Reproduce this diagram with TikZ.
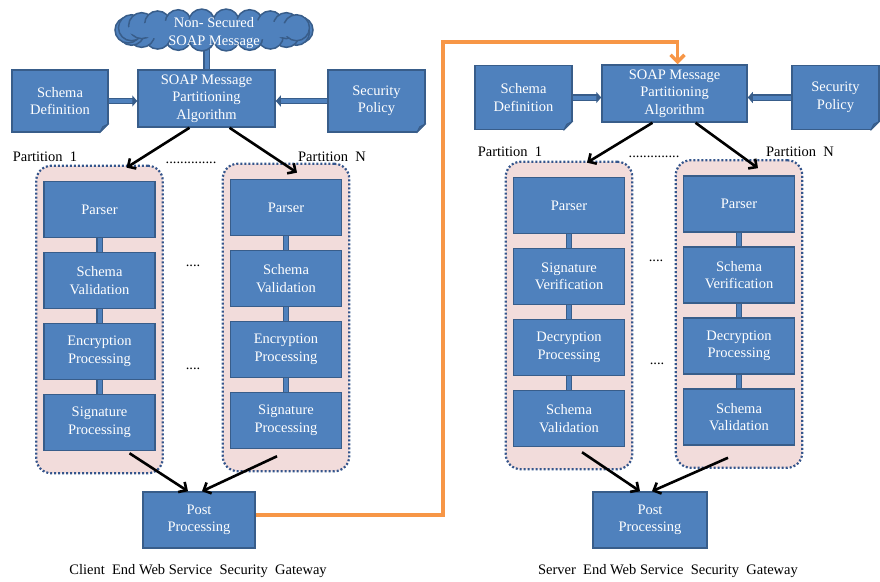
\documentclass[tikz,border=0pt]{standalone}
\usepackage{fontspec}
\setmainfont{Liberation Serif}
\usetikzlibrary{arrows.meta, positioning, fit, backgrounds}
\definecolor{boxfill}{HTML}{4F81BD}
\definecolor{boxedge}{HTML}{385D8A}
\definecolor{foldfill}{HTML}{3D6696}
\definecolor{partfill}{HTML}{F2DCDB}
\definecolor{partedge}{HTML}{34558C}
\definecolor{sendline}{HTML}{F79646}
\tikzset{%
            base/.style = {rectangle, draw=boxedge, line width=1.5pt, fill=boxfill,
                           text=white, align=center, inner sep=1pt,
                           font=\fontsize{14.5}{17.5}\selectfont},
  proc/.style = {base, minimum width=111pt, minimum height=56pt},
  doc/.style  = {base, minimum height=62pt},
  puff/.style = {text=white, align=center, inner sep=0pt,
                 font=\fontsize{14.5}{17.5}\selectfont},
  part/.style = {rectangle, rounded corners=15pt, draw=partedge, fill=partfill,
                 line width=2.2pt, dash pattern=on 2pt off 2pt,
                 inner xsep=7pt, inner ysep=18.5pt},
  note/.style = {inner sep=0pt, font=\fontsize{14.5}{17.5}\selectfont},
  link/.style = {draw=boxedge, line width=1.2pt, double=boxfill, double distance=4pt},
  feed/.style = {link, -{Triangle[length=5pt, width=11pt]}},
  flow/.style = {draw=black, line width=2.6pt, -{Straight Barb[length=6pt, width=12pt]}},
  send/.style = {draw=sendline, line width=3.5pt, -{Straight Barb[length=7pt, width=14pt]}},
}
\newcommand{\foldcorner}[1]{%
  \fill[white] ([xshift=-10pt,yshift=-1pt]#1.south east) -- ([xshift=1pt,yshift=-1pt]#1.south east)
               -- ([xshift=1pt,yshift=10pt]#1.south east) -- cycle;
  \filldraw[fill=foldfill, draw=boxedge, line width=1pt, line join=round]
      ([xshift=-9pt]#1.south east) -- ([yshift=9pt]#1.south east)
      -- ([xshift=-6pt,yshift=6pt]#1.south east) -- cycle;
}

\begin{document}
\begin{tikzpicture}[x=1pt, y=-1pt, node distance=71pt]
  \useasboundingbox (0,0) rectangle (880,581);

  % cloud outline: ring of puffs, then the inside filled over
  \foreach \t in {0,16.36,...,359}
    \filldraw[fill=boxfill, draw=boxedge, line width=1.5pt]
      ({214+86*cos(\t)},{30+8*sin(\t)}) circle[radius=13pt];
  \fill[boxfill] (214,30) ellipse[x radius=88pt, y radius=11pt];

  % client end
  \node (cCloud)      [puff]                                         at (214,33)    {Non- Secured\\SOAP Message};
  \node (cSoap)       [base, minimum width=137pt, minimum height=57pt] at (206.5,98.5) {SOAP Message\\Partitioning\\Algorithm};
  \node (cSchema)     [doc, minimum width=96pt]                     at (60,101)    {Schema\\Definition};
  \node (cPolicy)     [doc, minimum width=97pt]                     at (376.5,101) {Security\\Policy};

  \node (cParser1)    [proc]                       at (99.5,209.5) {Parser};
  \node (cSchemaVal1) [proc, below of=cParser1]                    {Schema\\Validation};
  \node (cEncrypt1)   [proc, below of=cSchemaVal1]                 {Encryption\\Processing};
  \node (cSign1)      [proc, below of=cEncrypt1]                   {Signature\\Processing};

  \node (cParserN)    [proc]                       at (286,207.5)  {Parser};
  \node (cSchemaValN) [proc, below of=cParserN]                    {Schema\\Validation};
  \node (cEncryptN)   [proc, below of=cSchemaValN]                 {Encryption\\Processing};
  \node (cSignN)      [proc, below of=cEncryptN]                   {Signature\\Processing};

  \node (cPost)       [proc, minimum width=112pt]  at (199,520)    {Post\\Processing};

  \node (cLabel1)     [note] at (45,157)   {Partition\ \ 1};
  \node (cLabelN)     [note] at (332,157)  {Partition\ \ N};
  \node (cDots)       [note] at (191,163)  {..............};
  \node (cGap1)       [note] at (193,266)  {....};
  \node (cGap2)       [note] at (193,369)  {....};
  \node (cCaption)    [note] at (198,571)  {Client\ \ End Web Service\ \ Security\ \ Gateway};

  % server end
  \node (sSoap)       [base, minimum width=145pt, minimum height=57pt] at (674.5,93.5) {SOAP Message\\Partitioning\\Algorithm};
  \node (sSchema)     [doc, minimum width=97pt, minimum height=64pt]   at (523.5,97.5) {Schema\\Definition};
  \node (sPolicy)     [doc, minimum width=87pt, minimum height=64pt]   at (835.5,97.5) {Security\\Policy};

  \node (sParser1)    [proc]                       at (569,205.5)  {Parser};
  \node (sVerify1)    [proc, below of=sParser1]                    {Signature\\Verification};
  \node (sDecrypt1)   [proc, below of=sVerify1]                    {Decryption\\Processing};
  \node (sSchemaVal1) [proc, below of=sDecrypt1]                   {Schema\\Validation};

  \node (sParserN)    [proc]                       at (739,204)    {Parser};
  \node (sVerifyN)    [proc, below of=sParserN]                    {Schema\\Verification};
  \node (sDecryptN)   [proc, below of=sVerifyN]                    {Decryption\\Processing};
  \node (sSchemaValN) [proc, below of=sDecryptN]                   {Schema\\Validation};

  \node (sPost)       [proc, minimum width=114pt]  at (650,520)    {Post\\Processing};

  \node (sLabel1)     [note] at (510,152)  {Partition\ \ 1};
  \node (sLabelN)     [note] at (800,152)  {Partition\ \ N};
  \node (sDots)       [note] at (654,157)  {..............};
  \node (sGap1)       [note] at (656,261)  {....};
  \node (sGap2)       [note] at (657,364)  {....};
  \node (sCaption)    [note] at (668,571)  {Server\ \ End Web Service\ \ Security\ \ Gateway};

  \begin{scope}[on background layer]
    \node (cPart1) [part, fit=(cParser1)(cSign1), yshift=-3.5pt] {};
    \node (cPartN) [part, fit=(cParserN)(cSignN), yshift=-3.5pt] {};
    \node (sPart1) [part, fit=(sParser1)(sSchemaVal1), yshift=-3.5pt] {};
    \node (sPartN) [part, fit=(sParserN)(sSchemaValN), yshift=-3.5pt] {};
    \draw[link] (cSoap.north) -- (cSoap.north |- cCloud.center);
  \end{scope}

  \draw[feed] (cSchema.east) -- (cSchema.east -| cSoap.west);
  \draw[feed] (cPolicy.west) -- (cPolicy.west -| cSoap.east);
  \draw[feed] (sSchema.east) -- (sSchema.east -| sSoap.west);
  \draw[feed] (sPolicy.west) -- (sPolicy.west -| sSoap.east);

  \draw[link] (cParser1.south)    -- (cSchemaVal1.north);
  \draw[link] (cSchemaVal1.south) -- (cEncrypt1.north);
  \draw[link] (cEncrypt1.south)   -- (cSign1.north);
  \draw[link] (cParserN.south)    -- (cSchemaValN.north);
  \draw[link] (cSchemaValN.south) -- (cEncryptN.north);
  \draw[link] (cEncryptN.south)   -- (cSignN.north);
  \draw[link] (sParser1.south)    -- (sVerify1.north);
  \draw[link] (sVerify1.south)    -- (sDecrypt1.north);
  \draw[link] (sDecrypt1.south)   -- (sSchemaVal1.north);
  \draw[link] (sParserN.south)    -- (sVerifyN.north);
  \draw[link] (sVerifyN.south)    -- (sDecryptN.north);
  \draw[link] (sDecryptN.south)   -- (sSchemaValN.north);

  \foldcorner{cSchema}
  \foldcorner{cPolicy}
  \foldcorner{sSchema}
  \foldcorner{sPolicy}

  \draw[flow] ([xshift=-17pt]cSoap.south) -- ([xshift=27pt,yshift=-3pt]cPart1.north);
  \draw[flow] ([xshift=23pt]cSoap.south)  -- ([xshift=11pt,yshift=-10pt]cPartN.north);
  \draw[flow] ([xshift=30pt,yshift=-2pt]cSign1.south) -- ([xshift=-11pt]cPost.north);
  \draw[flow] ([xshift=-9pt,yshift=-7pt]cSignN.south) -- ([xshift=3pt]cPost.north);

  \draw[flow] ([xshift=-22pt]sSoap.south) -- ([xshift=18pt,yshift=-2pt]sPart1.north);
  \draw[flow] ([xshift=21pt]sSoap.south)  -- ([xshift=19pt,yshift=-9pt]sPartN.north);
  \draw[flow] ([xshift=13pt,yshift=-5pt]sSchemaVal1.south) -- ([xshift=-10pt]sPost.north);
  \draw[flow] ([xshift=-11pt,yshift=-12pt]sSchemaValN.south) -- ([xshift=2pt]sPost.north);

  \coordinate (sendUp) at (443,42);
  \draw[send] ([yshift=5pt]cPost.east) -| (sendUp) -| ([xshift=3pt]sSoap.north);
\end{tikzpicture}
\end{document}
